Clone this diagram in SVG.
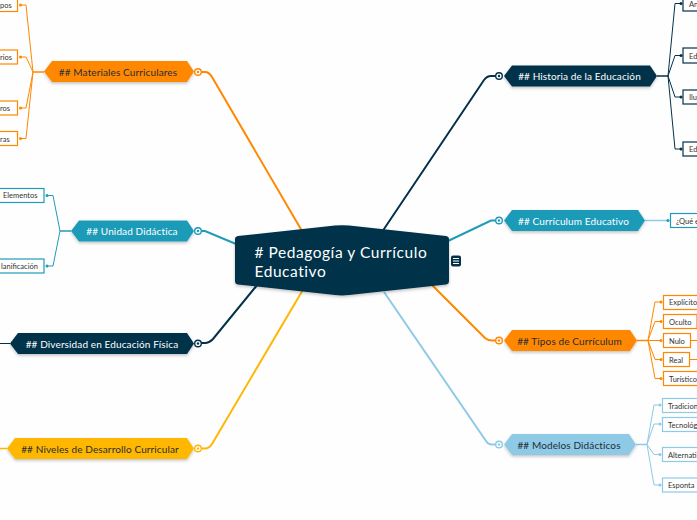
<svg xmlns="http://www.w3.org/2000/svg" width="697" height="520" viewBox="0 0 697 520">
<style>
text{font-family:"Lato","Open Sans","Liberation Sans",sans-serif}
.t{font-size:10px;text-anchor:middle;letter-spacing:.12px}
.c{font-size:7.500px;fill:#333}
.n{filter:url(#s)}
.w{fill:#fff}.d{fill:#1f2d36}
.navy{stroke:#04304a;fill:none}.teal{stroke:#1f9bb9;fill:none}.org{stroke:#ff8800;fill:none}.yel{stroke:#ffb703;fill:none}.sky{stroke:#8ecae6;fill:none}
.m{stroke-width:2}.b{stroke-width:1}
.box{fill:#fff;stroke-width:1.200}
.ci{fill:#fff;stroke-width:1.400}
</style>
<defs><filter id="s" x="-10%" y="-30%" width="120%" height="170%"><feDropShadow dx="0" dy="1.500" stdDeviation="1.500" flood-color="#000" flood-opacity=".25"/></filter></defs>
<rect width="697" height="520" fill="#fefefe"/>
<g id="connectors">
<path class="org m" d="M201 72H205Q209 72 212 77L302 231"/>
<path class="teal m" d="M201 231H205L236 244"/>
<path class="navy m" d="M201 343H205Q209 343 213 339L258 284"/>
<path class="yel m" d="M201 448.500H205Q209 448.500 212 444L304 288"/>
<path class="navy m" d="M496 76H491Q487 76 484 80L382 232"/>
<path class="teal m" d="M496 220.500H491L448 241"/>
<path class="org m" d="M496 340.500H492Q488 340.500 485 338L431 284"/>
<path class="sky m" d="M496 444.500H492Q488 444.500 486 441L384 292"/>
<g class="org b">
<path d="M44 72H33" stroke-width="1.500"/><path d="M33 72L26 5H21M33 72L26 57H21M33 72L26 108H21M33 72L26 138.500H21"/>
<path d="M637 340.500H648" stroke-width="1.500"/><path d="M648 340.500L655 302H661M648 340.500L655 321.500H661M648 340.500H661M648 340.500L655 359.500H661M648 340.500L655 378.500H661"/>
<path d="M691 340.500H697M690 359.500H697"/>
</g>
<g class="teal b">
<path d="M71 231H60" stroke-width="1.500"/><path d="M60 231L53 195.500H47M60 231L53 266H47"/>
</g>
<g class="navy b">
<path d="M10 343.500H0"/>
<path d="M657 76H668" stroke-width="1.500"/><path d="M668 76L675 3.500H681M668 76L675 55.500H681M668 76L675 97H681M668 76L675 149H681"/>
</g>
<path class="sky" stroke-width="1.500" d="M645 220.500H668"/>
<path class="yel" stroke-width="1.500" d="M7 448.500H0"/>
<g class="sky b">
<path d="M636 444.500H647" stroke-width="1.500"/><path d="M647 444.500L654 405H660M647 444.500L654 424H660M647 444.500L654 454.500H660M647 444.500L654 485H660"/>
</g>
<g fill="#ff8800"><circle cx="20.500" cy="5" r="1.500"/><circle cx="20.500" cy="57" r="1.500"/><circle cx="20.500" cy="108" r="1.500"/><circle cx="20.500" cy="138.500" r="1.500"/>
<circle cx="661" cy="302" r="1.500"/><circle cx="661" cy="321.500" r="1.500"/><circle cx="661" cy="340.500" r="1.500"/><circle cx="661" cy="359.500" r="1.500"/><circle cx="661" cy="378.500" r="1.500"/></g>
<g fill="#1f9bb9"><circle cx="47" cy="195.500" r="1.500"/><circle cx="47" cy="266" r="1.500"/><circle cx="668" cy="220.500" r="1.500"/></g>
<g fill="#04304a"><circle cx="681" cy="3.500" r="1.500"/><circle cx="681" cy="55.500" r="1.500"/><circle cx="681" cy="97" r="1.500"/><circle cx="681" cy="149" r="1.500"/></g>
<g fill="#8ecae6"><circle cx="660" cy="405" r="1.500"/><circle cx="660" cy="424" r="1.500"/><circle cx="660" cy="454.500" r="1.500"/><circle cx="660" cy="485" r="1.500"/></g>
</g>
<g id="central">
<path class="n" d="M238 236L335 225.500Q342 224.800 349 225.500L446 236Q449 236.500 449 239V281Q449 284 446 284.500L349 295Q342 295.800 335 295L238 284.500Q235 284 235 281V239Q235 236.500 238 236Z" fill="#04304a"/>
<text x="254.500" y="257.500" fill="#fff" font-size="15.500" letter-spacing=".55">
<tspan x="254.500" y="257.500"># Pedagogía y Currículo</tspan><tspan x="254.500" y="276.500">Educativo</tspan></text>
</g>
<g id="mat"><path class="n" d="M44 71.500L52 61H187L194 71.500L187 82H52Z" fill="#ff8800"/><text class="t d" x="118" y="75.500">## Materiales Curriculares</text><circle class="org ci" cx="198" cy="72" r="3.300"/><circle cx="198" cy="72" r="1.200" fill="#ff8800"/></g>
<g id="uni"><path class="n" d="M71 231L79 220.500H187L194 231L187 241.500H79Z" fill="#1f9bb9"/><text class="t w" x="132" y="234.500">## Unidad Didáctica</text><circle class="teal ci" cx="198" cy="231" r="3.300"/><circle cx="198" cy="231" r="1.200" fill="#1f9bb9"/></g>
<g id="div"><path class="n" d="M10 343.500L18 333H187L194 343.500L187 354H18Z" fill="#04304a"/><text class="t w" x="102" y="347.500">## Diversidad en Educación Física</text><circle class="navy ci" cx="198" cy="343.500" r="3.300"/><circle cx="198" cy="343.500" r="1.200" fill="#04304a"/></g>
<g id="niv"><path class="n" d="M7 448.500L15 438H187L194 448.500L187 459H15Z" fill="#ffb703"/><text class="t d" x="100" y="452.500">## Niveles de Desarrollo Curricular</text><circle class="yel ci" cx="198" cy="448.500" r="3.300"/><circle cx="198" cy="448.500" r="1.200" fill="#ffb703"/></g>
<g id="his"><path class="n" d="M504 76L512 65.500H650L657 76L650 86.500H512Z" fill="#04304a"/><text class="t w" x="579.500" y="80">## Historia de la Educación</text><circle class="navy ci" cx="499" cy="76" r="3.300"/><circle cx="499" cy="76" r="1.200" fill="#04304a"/></g>
<g id="cur"><path class="n" d="M504 220.500L512 210H638L645 220.500L638 231H512Z" fill="#1f9bb9"/><text class="t w" x="573.500" y="224.500">## Currículum Educativo</text><circle class="teal ci" cx="499" cy="220.500" r="3.300"/><circle cx="499" cy="220.500" r="1.200" fill="#1f9bb9"/></g>
<g id="tip"><path class="n" d="M504 340.500L512 330H630L637 340.500L630 351H512Z" fill="#ff8800"/><text class="t d" x="569.500" y="344.500">## Tipos de Currículum</text><circle class="org ci" cx="499" cy="340.500" r="3.300"/><circle cx="499" cy="340.500" r="1.200" fill="#ff8800"/></g>
<g id="mod"><path class="n" d="M504 444.500L512 434H629L636 444.500L629 455H512Z" fill="#8ecae6"/><text class="t d" x="569" y="448.500">## Modelos Didácticos</text><circle class="sky ci" cx="499" cy="444.500" r="3.300"/><circle cx="499" cy="444.500" r="1.200" fill="#8ecae6"/></g>
<g id="menu"><rect x="451" y="255.500" width="10" height="11" rx="2" fill="#04304a"/><path d="M453 258.500H459M453 261H459M453 263.500H459" stroke="#fff" stroke-width="1"/></g>
<g id="m1"><rect class="org box" x="-5" y="-3" width="22.500" height="14.500"/><text class="c" x="0" y="7.500">pos</text></g>
<g id="m2"><rect class="org box" x="-5" y="50" width="22.500" height="14"/><text class="c" x="0" y="59.500">rios</text></g>
<g id="m3"><rect class="org box" x="-5" y="101" width="22.500" height="14"/><text class="c" x="0" y="111">ros</text></g>
<g id="m4"><rect class="org box" x="-5" y="131.500" width="22.500" height="14"/><text class="c" x="0" y="141.500">ras</text></g>
<g id="u1"><rect class="teal box" x="-5" y="188.500" width="49" height="14"/><text class="c" x="3" y="198">Elementos</text></g>
<g id="u2"><rect class="teal box" x="-5" y="259" width="49" height="14"/><text class="c" x="1" y="269">lanificación</text></g>
<g id="h1"><rect class="navy box" x="683" y="-4" width="20" height="15"/><text class="c" x="689" y="6.500">An</text></g>
<g id="h2"><rect class="navy box" x="683" y="48" width="20" height="15"/><text class="c" x="689" y="58.500">Ed</text></g>
<g id="h3"><rect class="navy box" x="683" y="90" width="20" height="14"/><text class="c" x="689" y="100">Ilu</text></g>
<g id="h4"><rect class="navy box" x="683" y="142" width="20" height="14"/><text class="c" x="689" y="152">Ed</text></g>
<g id="c1"><rect class="teal box" x="670.500" y="213.500" width="32" height="14"/><text class="c" x="676" y="223.500">¿Qué e</text></g>
<g id="t1"><rect class="org box" x="663.500" y="295.500" width="40" height="14"/><text class="c" x="669" y="305">Explícito</text></g>
<g id="t2"><rect class="org box" x="663.500" y="314.500" width="33.500" height="14"/><text class="c" x="669" y="324.500">Oculto</text></g>
<g id="t3"><rect class="org box" x="663.500" y="333.500" width="27" height="14"/><text class="c" x="669" y="343.500">Nulo</text></g>
<g id="t4"><rect class="org box" x="663.500" y="352.500" width="26" height="14"/><text class="c" x="669" y="362.500">Real</text></g>
<g id="t5"><rect class="org box" x="663.500" y="371.500" width="40" height="14"/><text class="c" x="669" y="381.500">Turístico</text></g>
<g id="o1"><rect class="sky box" x="662.500" y="398.500" width="40" height="14"/><text class="c" x="668" y="408.500">Tradicion</text></g>
<g id="o2"><rect class="sky box" x="662.500" y="417.500" width="40" height="14"/><text class="c" x="668" y="427.500">Tecnológ</text></g>
<g id="o3"><rect class="sky box" x="662.500" y="447.500" width="40" height="14"/><text class="c" x="668" y="457.500">Alternati</text></g>
<g id="o4"><rect class="sky box" x="662.500" y="478" width="40" height="14"/><text class="c" x="668" y="488">Esponta</text></g>
</svg>
